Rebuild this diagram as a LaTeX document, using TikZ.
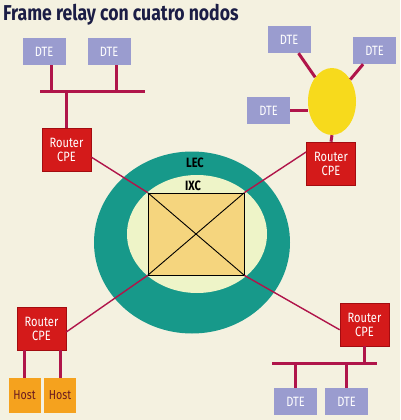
\documentclass[tikz,border=0pt]{standalone}
\usepackage{fontspec}
\setmainfont{Fira Sans}[FakeStretch=0.82]
\usetikzlibrary{shapes.geometric}

\definecolor{fondo}{HTML}{F4F1E0}
\definecolor{titulo}{HTML}{1B1D45}
\definecolor{dtecol}{HTML}{9A9CCF}
\definecolor{routercol}{HTML}{D41A1A}
\definecolor{routerborde}{HTML}{A30C10}
\definecolor{linea}{HTML}{B0154A}
\definecolor{lec}{HTML}{17998A}
\definecolor{ixcfondo}{HTML}{EEF4C8}
\definecolor{rectcol}{HTML}{F5D57E}
\definecolor{hubcol}{HTML}{F7DA1C}
\definecolor{hostcol}{HTML}{F5A21E}
\definecolor{hosttexto}{HTML}{6A1A20}

\begin{document}
\begin{tikzpicture}[x=1pt,y=-1pt,
    dte/.style={fill=dtecol, text=white, minimum width=43pt, minimum height=27pt,
      inner sep=0pt, font=\fontsize{13.5}{14}\selectfont},
    router/.style={fill=routercol, draw=routerborde, line width=0.6pt, text=white,
      align=center, minimum width=49pt, minimum height=43pt, inner sep=0pt,
      font=\fontsize{13.5}{14}\selectfont},
    host/.style={fill=hostcol, text=hosttexto, minimum width=32pt, minimum height=35pt,
      inner sep=0pt, font=\fontsize{13}{14}\selectfont},
    enlace/.style={linea, line width=1.4pt},
    bus/.style={linea, line width=3pt}]
            \fill[fondo] (0,0) rectangle (400,420);
            \useasboundingbox (0,0) rectangle (400,420);

            \node[anchor=base west, inner sep=0pt, text=titulo, font=\fontsize{21.5}{22}\selectfont\bfseries] (tit) at (3,21) {Frame relay con cuatro nodos};

            % red LEC / IXC
            \fill[lec] (192,242.5) ellipse (98 and 91);
            \fill[ixcfondo] (197,234) ellipse (70 and 59);
            \node[fill=rectcol, draw=black, line width=0.9pt, minimum width=96pt, minimum height=82pt] (ixc) at (196,234) {};
            \draw[line width=0.9pt] (ixc.north west) -- (ixc.south east) (ixc.north east) -- (ixc.south west);
            \node[font=\fontsize{13.5}{14}\selectfont\bfseries] (leclbl) at (195,163) {LEC};
            \node[font=\fontsize{13.5}{14}\selectfont\bfseries] (ixclbl) at (193,185.5) {IXC};

            % nodo arriba izquierda
            \node[dte] (dteA) at (44,51.5) {DTE};
            \node[dte] (dteB) at (109,51.5) {DTE};
            \node[router] (routerA) at (66.5,150) {Router\\CPE};
            \coordinate (busA1) at (40,91);
            \coordinate (busA2) at (145,91);
            \coordinate (tapA1) at (51,91);
            \coordinate (tapA2) at (116,91);
            \draw[bus] (busA1) -- (busA2);
            \draw[bus] (tapA1) -- (tapA1 |- dteA.south);
            \draw[bus] (tapA2) -- (tapA2 |- dteB.south);
            \draw[bus] (routerA.north) -- (routerA.north |- busA1);

            % nodo arriba derecha
            \node[dte] (dteC) at (289,39.5) {DTE};
            \node[dte] (dteD) at (374.5,50.5) {DTE};
            \node[dte] (dteE) at (268.5,110.5) {DTE};
            \node[ellipse, fill=hubcol, minimum width=48pt, minimum height=67pt, inner sep=0pt] (hub) at (332,101.5) {};
            \node[router] (routerB) at (331,163.5) {Router\\CPE};
            \draw[bus] (dteC) -- (hub);
            \draw[bus] (dteD) -- (hub);
            \draw[bus] (dteE.east) -- (hub.west |- dteE.east);
            \draw[bus] (hub.south) -- (routerB.north);

            % nodo abajo izquierda
            \node[router] (routerC) at (41.5,328.5) {Router\\CPE};
            \node[host] (hostA) at (24.5,395.5) {Host};
            \node[host] (hostB) at (60,395.5) {Host};
            \draw[bus] (hostA.north) -- (hostA.north |- routerC.south);
            \draw[bus] (hostB.north) -- (hostB.north |- routerC.south);

            % nodo abajo derecha
            \node[router] (routerD) at (364.5,324.5) {Router\\CPE};
            \node[dte] (dteF) at (295.5,401.5) {DTE};
            \node[dte] (dteG) at (346.5,401.5) {DTE};
            \coordinate (busB1) at (272,363);
            \coordinate (busB2) at (377,363);
            \draw[bus] (busB1) -- (busB2);
            \draw[bus] (routerD.south) -- (routerD.south |- busB1);
            \draw[bus] (dteF.north) -- (dteF.north |- busB1);
            \draw[bus] (dteG.north) -- (dteG.north |- busB1);

            % enlaces a la red
            \draw[enlace] (routerA.344) -- (ixc.north west);
            \draw[enlace] (routerB.155) -- (ixc.north east);
            \draw[enlace] (routerC.352) -- (ixc.south west);
            \draw[enlace] (routerD.192) -- (ixc.south east);
        \end{tikzpicture}
\end{document}
